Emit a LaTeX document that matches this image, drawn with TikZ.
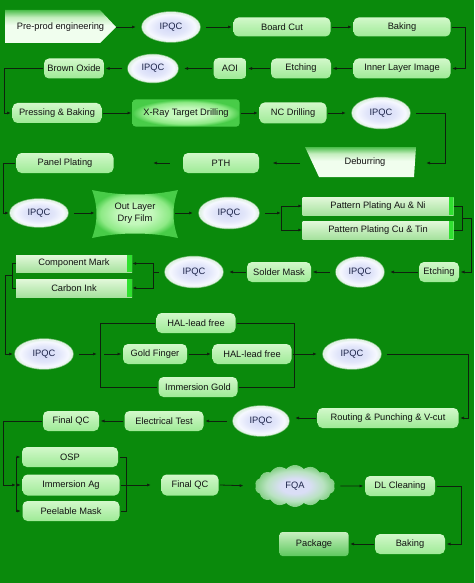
\documentclass[tikz,border=0pt]{standalone}
\usepackage{fontspec}
\setmainfont{Liberation Sans}
\usetikzlibrary{shapes.geometric,shapes.symbols,arrows.meta,calc}
\definecolor{bg}{HTML}{0A8A0C}
\definecolor{txt}{HTML}{121212}
\definecolor{ipqctxt}{HTML}{1C2448}
\definecolor{bxT}{HTML}{D2F8CA}
\definecolor{bxB}{HTML}{9EEA96}
\definecolor{ppT}{HTML}{E2F8DA}
\definecolor{ppB}{HTML}{A6E29E}
\definecolor{strip}{HTML}{30E030}
\definecolor{arrc}{HTML}{0E220E}
\definecolor{edgeT}{HTML}{4CBE4C}
\definecolor{edgeM}{HTML}{C4EEBE}
\definecolor{edgeB}{HTML}{F0FEEE}
\definecolor{pkT}{HTML}{C8F0C0}
\definecolor{pkB}{HTML}{5EC85E}
\definecolor{halo}{HTML}{EEF8EE}
\definecolor{ipA}{HTML}{D2D7F6}
\definecolor{ipB}{HTML}{E2E6FA}
\definecolor{ipC}{HTML}{F6F8FF}
\definecolor{ipD}{HTML}{DCF0E0}
\definecolor{xrA}{HTML}{C4F8BC}
\definecolor{xrB}{HTML}{8EEA86}
\definecolor{xrC}{HTML}{48CC48}
\definecolor{clA}{HTML}{DADEF6}
\definecolor{clB}{HTML}{B8E2C0}
\definecolor{clC}{HTML}{80CE80}
% pgf maps the central 50bp of a shading onto the path's bounding box
\pgfdeclareradialshading{ipqcshade}{\pgfpoint{0bp}{0bp}}{color(0bp)=(ipA); color(13bp)=(ipB); color(21bp)=(ipC); color(25bp)=(ipD); color(50bp)=(ipD)}
\pgfdeclareradialshading{xrshade}{\pgfpoint{0bp}{0bp}}{color(0bp)=(xrA); color(10bp)=(xrA); color(20bp)=(xrB); color(25bp)=(xrC); color(50bp)=(xrC)}
\pgfdeclareradialshading{cloudshade}{\pgfpoint{0bp}{0bp}}{color(0bp)=(clA); color(9bp)=(clA); color(18bp)=(clB); color(25bp)=(clC); color(50bp)=(clC)}
\pgfdeclareverticalshading{edgeshading}{100bp}{color(0bp)=(edgeB); color(25bp)=(edgeB); color(52bp)=(edgeB); color(64bp)=(edgeM); color(75bp)=(edgeT); color(100bp)=(edgeT)}
\tikzset{
  base/.style={font=\fontsize{9.3}{11.5}\selectfont, text=txt, inner sep=0pt, align=center},
  box/.style={base, rectangle, rounded corners=5pt, top color=bxT, bottom color=bxB, outer sep=1.5pt, minimum height=20pt},
  ipqc/.style={base, ellipse, shading=ipqcshade, draw=halo, draw opacity=0.55, line width=1.4pt, outer sep=6pt, text=ipqctxt},
  ppbox/.style={base, rectangle, top color=ppT, bottom color=ppB, minimum height=18pt,
    path picture={\fill[strip] ([xshift=-5pt]path picture bounding box.north east) rectangle (path picture bounding box.south east);}},
  xray/.style={base, rectangle, rounded corners=3pt, shading=xrshade, outer sep=1pt},
  pkgbox/.style={base, rectangle, rounded corners=3pt, top color=pkT, bottom color=pkB, outer sep=1.5pt},
  fqa/.style={base, cloud, cloud puffs=14, cloud puff arc=100, aspect=2, shading=cloudshade, text=ipqctxt, outer sep=2pt},
  tnode/.style={base},
  arr/.style={draw=arrc, line width=0.8pt, -{Latex[length=4pt,width=3pt]}},
  ln/.style={draw=arrc, line width=0.8pt}
}
\begin{document}
\begin{tikzpicture}[x=1pt,y=-1pt]
\fill[bg] (0,0) rectangle (474,583);
\useasboundingbox (0,0) rectangle (474,583);

% custom shapes (drawn with an upward y axis so the shading is not flipped)
\begin{scope}[y=1pt]
\shade[shading=edgeshading] (5,-10) -- (100,-10) -- (116,-27) -- (100,-43) -- (5,-43) -- cycle;
\shade[shading=edgeshading] (305,-147) -- (416,-147) -- (414,-177) -- (319,-177) -- cycle;
\shade[shading=xrshade] (92,-190) .. controls (120,-196) and (150,-196) .. (178,-190)
  .. controls (172,-206) and (172,-222) .. (178,-238)
  .. controls (150,-232) and (120,-232) .. (92,-238)
  .. controls (98,-222) and (98,-206) .. (92,-190) -- cycle;
\end{scope}

% row 1
\node[tnode, minimum width=111, minimum height=33] (pre) at (60.5,27) {Pre-prod engineering};
\node[ipqc, minimum width=58, minimum height=30] (ipqc1) at (171,27) {IPQC};
\node[box, minimum width=97, minimum height=19] (board) at (282,27) {Board Cut};
\node[box, minimum width=97, minimum height=19] (bake1) at (402,27) {Baking};
% row 2
\node[box, minimum width=97] (inner) at (402,68.5) {Inner Layer Image};
\node[box, minimum width=60] (etch1) at (301,68.5) {Etching};
\node[box, minimum width=33, minimum height=21] (aoi) at (230,68.5) {AOI};
\node[ipqc, minimum width=50, minimum height=28] (ipqc2) at (153,68.5) {IPQC};
\node[box, minimum width=60] (brown) at (74,68.5) {Brown Oxide};
% row 3
\node[box, minimum width=89] (press) at (57,113) {Pressing \& Baking};
\node[xray, minimum width=107, minimum height=27] (xr) at (186,113) {X-Ray Target Drilling};
\node[box, minimum width=67, minimum height=21] (nc) at (293,113) {NC Drilling};
\node[ipqc, minimum width=58, minimum height=31] (ipqc3) at (381,113) {IPQC};
% row 4
\node[tnode, minimum width=112, minimum height=30, outer sep=5pt] (deb) at (365,163) {\raisebox{3pt}{Deburring}};
\node[box, minimum width=76] (pth) at (221,163) {PTH};
\node[box, minimum width=97] (panel) at (65,163) {Panel Plating};
% row 5
\node[ipqc, minimum width=58, minimum height=28] (ipqc4) at (39,213) {IPQC};
\node[tnode, minimum width=80, minimum height=44, font=\fontsize{9.3}{12}\selectfont] (outl) at (135,213) {Out Layer\\Dry Film};
\node[ipqc, minimum width=60, minimum height=31] (ipqc5) at (229,213) {IPQC};
\node[ppbox, minimum width=151] (ppa) at (378,206) {Pattern Plating Au \& Ni};
\node[ppbox, minimum width=151] (ppc) at (378,230) {Pattern Plating Cu \& Tin};
% row 6
\node[box, minimum width=40] (etch2) at (439,272) {Etching};
\node[ipqc, minimum width=48, minimum height=30] (ipqc6) at (360,272) {IPQC};
\node[box, minimum width=64] (solder) at (279,272) {Solder Mask};
\node[ipqc, minimum width=58, minimum height=31] (ipqc7) at (194,272) {IPQC};
\node[ppbox, minimum width=116, minimum height=17] (comp) at (74,263.5) {Component Mark};
\node[ppbox, minimum width=116] (carbon) at (74,288) {Carbon Ink};
% row 7
\node[ipqc, minimum width=58, minimum height=30] (ipqc8) at (44,354) {IPQC};
\node[box, minimum width=79] (hal1) at (196,323) {HAL-lead free};
\node[box, minimum width=64] (gold) at (155,354) {Gold Finger};
\node[box, minimum width=79] (hal2) at (252,354) {HAL-lead free};
\node[box, minimum width=79] (immg) at (198,387) {Immersion Gold};
\node[ipqc, minimum width=58, minimum height=30] (ipqc9) at (352,354) {IPQC};
% row 8
\node[box, minimum width=141] (rout) at (388,418) {Routing \& Punching \& V-cut};
\node[ipqc, minimum width=56, minimum height=30] (ipqc10) at (261,421) {IPQC};
\node[box, minimum width=79] (etest) at (164,421) {Electrical Test};
\node[box, minimum width=56] (fqc1) at (71,421) {Final QC};
% row 9
\node[box, minimum width=96] (osp) at (70,457) {OSP};
\node[box, minimum width=97, minimum height=21] (imag) at (71,485) {Immersion Ag};
\node[box, minimum width=97] (peel) at (71,511) {Peelable Mask};
\node[box, minimum width=57, minimum height=21] (fqc2) at (190,485) {Final QC};
\node[fqa, minimum width=80, minimum height=42] (fqa) at (295,486) {FQA};
\node[box, minimum width=70] (dl) at (400,486) {DL Cleaning};
\node[box, minimum width=70] (bake2) at (410,544) {Baking};
\node[pkgbox, minimum width=69, minimum height=24] (pkg) at (314,544) {Package};

% junction coordinates
\coordinate (j1) at (281,213);
\coordinate (j2) at (462,218);
\coordinate (j3) at (153,272);
\coordinate (j4) at (12,275);
\coordinate (j5) at (100,354);
\coordinate (j6) at (294,354);
\coordinate (j7) at (16,485);
\coordinate (j8) at (126,485);

% connectors
\draw[arr] (pre.east) -- (ipqc1.west);
\draw[arr] (ipqc1.east) -- (board.west);
\draw[arr] (board.east) -- (bake1.west);
\draw[arr] (bake1.east) -- ++(13,0) |- (inner.east);
\draw[arr] (inner.west) -- (etch1.east);
\draw[arr] (etch1.west) -- (aoi.east);
\draw[arr] (aoi.west) -- (ipqc2.east);
\draw[arr] (ipqc2.west) -- (brown.east);
\draw[arr] (brown.west) -- ++(-38,0) |- (press.west);
\draw[arr] (press.east) -- (xr.west);
\draw[arr] (xr.east) -- (nc.west);
\draw[arr] (nc.east) -- (ipqc3.west);
\draw[arr] (ipqc3.east) -- ++(29,0) |- (deb.east);
\draw[arr, shorten <=4pt, shorten >=12pt] (deb.west) -- (pth.east);
\draw[arr, shorten <=12pt, shorten >=38pt] (pth.west) -- (panel.east);
\draw[arr] (panel.west) -- ++(-12,0) |- ([xshift=5pt]ipqc4.west);
\draw[arr] (ipqc4.east) -- (outl.west);
\draw[arr] (outl.east) -- (ipqc5.west);
\draw[arr] (ipqc5.east) -- (j1);
\draw[arr] (j1) |- (ppa.west);
\draw[arr] (j1) |- (ppc.west);
\draw[ln] (ppa.east) -| (j2);
\draw[ln] (ppc.east) -| (j2);
\draw[arr] (j2) -- ++(9,0) |- (etch2.east);
\draw[arr] (etch2.west) -- (ipqc6.east);
\draw[arr] (ipqc6.west) -- (solder.east);
\draw[arr] (solder.west) -- (ipqc7.east);
\draw[ln] (ipqc7.west) -- (j3);
\draw[arr] (j3) |- (comp.east);
\draw[arr] (j3) |- (carbon.east);
\draw[ln] (comp.west) -| (j4);
\draw[ln] (carbon.west) -| (j4);
\draw[arr] (j4) -- ++(-7,0) |- ([xshift=4pt]ipqc8.west);
\draw[arr, shorten >=3pt] (ipqc8.east) -- (j5);
\draw[ln] (hal1.west) -| (j5);
\draw[ln] (immg.west) -| (j5);
\draw[arr, shorten <=4pt] (j5) -- (gold.west);
\draw[arr] (gold.east) -- (hal2.west);
\draw[ln] (hal1.east) -| (j6);
\draw[ln] (immg.east) -| (j6);
\draw[arr] (hal2.east) -- (ipqc9.west);
\draw[arr] (ipqc9.east) -- ++(81,0) |- (rout.east);
\draw[arr] (rout.west) -- (rout.west -| ipqc10.east);
\draw[arr] (ipqc10.west) -- (etest.east);
\draw[arr] (etest.west) -- (fqc1.east);
\draw[arr] (fqc1.west) -- ++(-38,0) |- (j7);
\draw[arr] (j7) |- (osp.west);
\draw[arr] (j7) -- (imag.west);
\draw[arr] (j7) |- (peel.west);
\draw[ln] (osp.east) -| (j8);
\draw[ln] (peel.east) -| (j8);
\draw[arr, shorten >=9pt] (imag.east) -- (fqc2.west);
\draw[arr, shorten >=10pt] (fqc2.east) -- (fqa.west);
\draw[arr, shorten <=4pt] (fqa.east) -- (dl.west);
\draw[arr] (dl.east) -- ++(25,0) |- (bake2.east);
\draw[arr] (bake2.west) -- (pkg.east);
\end{tikzpicture}
\end{document}
